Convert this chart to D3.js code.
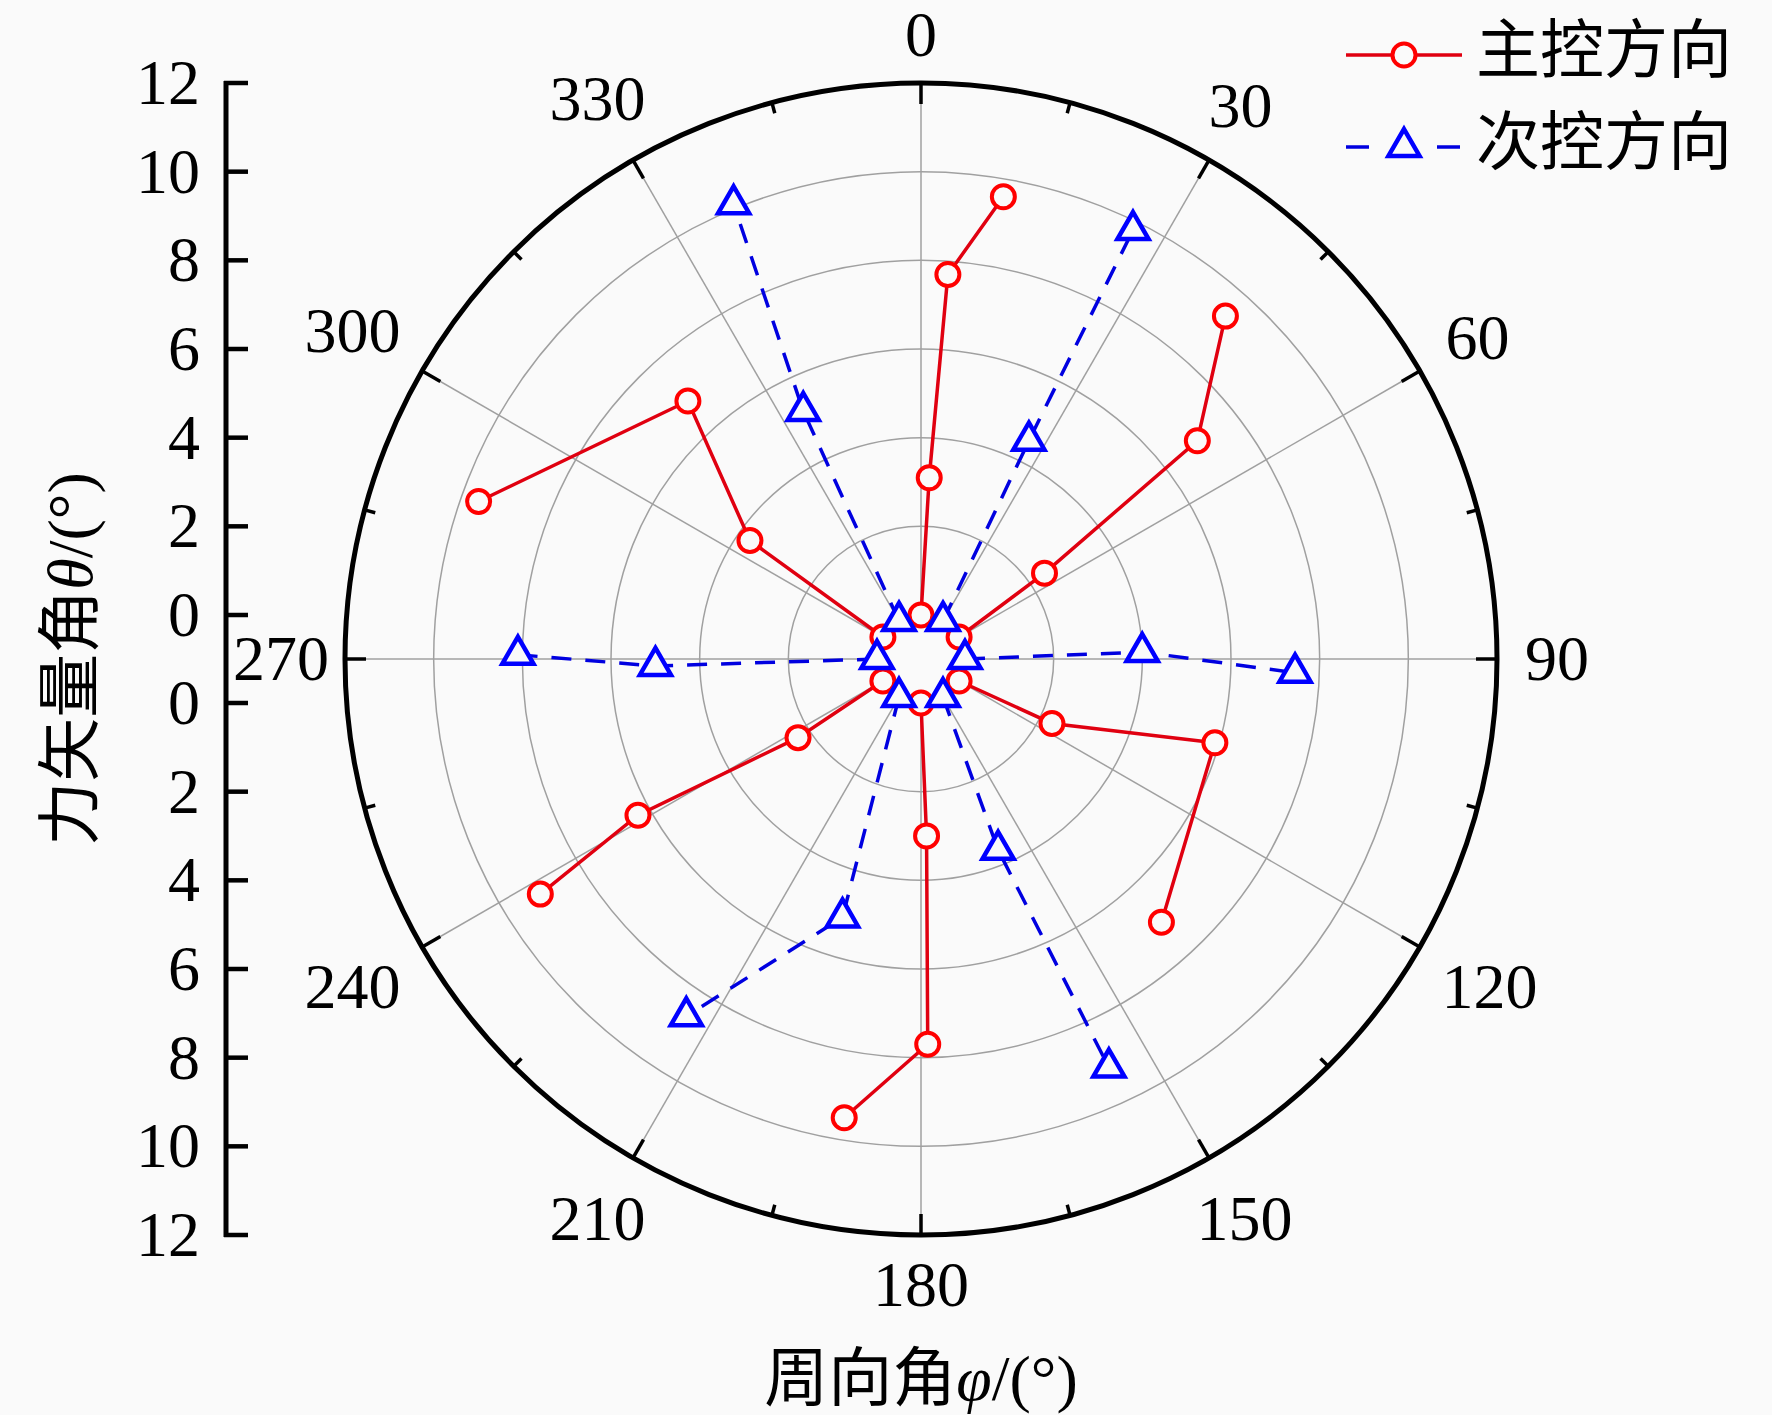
<!DOCTYPE html>
<html>
<head>
<meta charset="utf-8">
<script src="https://cdn.jsdelivr.net/npm/d3@7"></script>
<style>
  body { margin: 0; background: #fafafa; }
  text { font-family: "Liberation Serif", "Noto Sans CJK SC", serif; fill: #000; }
</style>
</head>
<body>
<svg id="chart"></svg>
<script>
const width = 1772;
const height = 1415;

// 主控方向: each arm is [phi (deg), theta (deg)]
const mainPhi = [
    [0, 2.6, 4.0, 10.1],
    [60, 55.2, 51.7, 41.6],
    [120, 116.2, 105.9, 137.6],
    [180, 178.2, 179.0, 189.5],
    [240, 237.4, 241.1, 238.3],
    [300, 304.7, 317.9, 289.6]
];
const mainTheta = [
    [0, 3.1, 7.7, 9.6],
    [0, 2.4, 6.95, 9.35],
    [0, 2.3, 5.9, 7.05],
    [0, 3.0, 7.7, 9.5],
    [0, 2.3, 6.3, 9.1],
    [0, 3.7, 6.85, 9.6]
];

// 次控方向
const subPhi = [
    [30, 26.3, 26.3],
    [90, 88.2, 92.1],
    [150, 158.0, 155.3],
    [210, 196.9, 213.3],
    [270, 268.5, 270.6],
    [330, 334.6, 337.6]
];
const subTheta = [
    [0, 4.5, 9.8],
    [0, 4.0, 7.45],
    [0, 3.65, 9.15],
    [0, 5.1, 8.65],
    [0, 5.0, 8.1],
    [0, 5.2, 10.1]
];

const angleTicks = d3.range(0, 360, 30);
const angleMinor = d3.range(15, 360, 30);
const radialTicks = [0, 2, 4, 6, 8, 10, 12];
const legendNames = ["主控方向", "次控方向"];

const cx = 921, cy = 659;
const R = 576, hole = 44;
const bg = "#fafafa";

const svg = d3.select("#chart")
    .attr("width", width)
    .attr("height", height)
    .attr("viewBox", `0 0 ${width} ${height}`);

svg.append("rect").attr("width", width).attr("height", height).attr("fill", bg);

const rScale = d3.scaleLinear().domain([0, 12]).range([hole, R]);
const rad = d => d * Math.PI / 180;

const g = svg.append("g").attr("transform", `translate(${cx},${cy})`);

// grid circles
g.append("g").selectAll("circle")
    .data(radialTicks.slice(0, -1))
    .enter().append("circle")
    .attr("r", d => rScale(d))
    .attr("fill", "none")
    .attr("stroke", "#a0a0a0")
    .attr("stroke-width", 1.5);

// spokes
g.append("g").selectAll("line")
    .data(angleTicks)
    .enter().append("line")
    .attr("x1", d => hole * Math.sin(rad(d)))
    .attr("y1", d => -hole * Math.cos(rad(d)))
    .attr("x2", d => R * Math.sin(rad(d)))
    .attr("y2", d => -R * Math.cos(rad(d)))
    .attr("stroke", "#a0a0a0")
    .attr("stroke-width", 1.5);

// outer circle + ticks
g.append("circle").attr("r", R).attr("fill", "none").attr("stroke", "#000").attr("stroke-width", 5);

function tickLines(data, len) {
    g.append("g").selectAll("line")
        .data(data)
        .enter().append("line")
        .attr("x1", d => R * Math.sin(rad(d)))
        .attr("y1", d => -R * Math.cos(rad(d)))
        .attr("x2", d => (R - len) * Math.sin(rad(d)))
        .attr("y2", d => -(R - len) * Math.cos(rad(d)))
        .attr("stroke", "#000")
        .attr("stroke-width", 3.5);
}
tickLines(angleTicks, 21);
tickLines(angleMinor, 11);

// angular labels
const fs = 64;
function labelR(d) {
    const w = String(d).length * fs / 2, h = 44;
    const off = Math.abs(Math.sin(rad(d))) * w / 2 + Math.abs(Math.cos(rad(d))) * h / 2;
    return R + 28 + off;
}
g.append("g").selectAll("text")
    .data(angleTicks)
    .enter().append("text")
    .attr("text-anchor", "middle")
    .attr("font-size", fs)
    .attr("x", d => labelR(d) * Math.sin(rad(d)) + (d === 270 ? 12 : 0))
    .attr("y", d => -labelR(d) * Math.cos(rad(d)) + fs * 0.33 + (d === 0 ? 2 : 0))
    .text(d => d);

// data lines
const radialLine = d3.lineRadial()
    .angle(d => rad(d[0]))
    .radius(d => rScale(d[1]));

const mainArms = mainPhi.map((arm, i) => arm.map((p, j) => [p, mainTheta[i][j]]));
const subArms = subPhi.map((arm, i) => arm.map((p, j) => [p, subTheta[i][j]]));

g.append("g").selectAll("path")
    .data(mainArms)
    .enter().append("path")
    .attr("d", radialLine)
    .attr("fill", "none")
    .attr("stroke", "#e00010")
    .attr("stroke-width", 3.5);

g.append("g").selectAll("path")
    .data(subArms)
    .enter().append("path")
    .attr("d", radialLine)
    .attr("fill", "none")
    .attr("stroke", "#0000e0")
    .attr("stroke-width", 3.5)
    .attr("stroke-dasharray", "20,14");

const px = d => rScale(d[1]) * Math.sin(rad(d[0]));
const py = d => -rScale(d[1]) * Math.cos(rad(d[0]));
const triangle = d3.symbol().type(d3.symbolTriangle).size(420);

// markers
g.append("g").selectAll("circle")
    .data(mainArms.flat())
    .enter().append("circle")
    .attr("cx", px)
    .attr("cy", py)
    .attr("r", 11.5)
    .attr("fill", bg)
    .attr("stroke", "#ff0000")
    .attr("stroke-width", 4);

g.append("g").selectAll("path")
    .data(subArms.flat())
    .enter().append("path")
    .attr("d", triangle)
    .attr("transform", d => `translate(${px(d)},${py(d)})`)
    .attr("fill", bg)
    .attr("stroke", "#0000ff")
    .attr("stroke-width", 4.5);

// radial axis on the left
const axX = 226;
const yUp = d => cy - rScale(d);
const yDown = d => cy + rScale(d);
const ax = svg.append("g");
ax.append("line")
    .attr("x1", axX).attr("x2", axX)
    .attr("y1", yUp(12) - 2).attr("y2", yDown(12) + 2)
    .attr("stroke", "#000").attr("stroke-width", 5);

[yUp, yDown].forEach(f => {
    ax.append("g").selectAll("line")
        .data(radialTicks)
        .enter().append("line")
        .attr("x1", axX - 2).attr("x2", axX + 22)
        .attr("y1", f).attr("y2", f)
        .attr("stroke", "#000").attr("stroke-width", 4.5);
    ax.append("g").selectAll("text")
        .data(radialTicks)
        .enter().append("text")
        .attr("text-anchor", "end")
        .attr("font-size", fs)
        .attr("x", 200)
        .attr("y", d => f(d) + fs * 0.33)
        .text(d => d);
});

// axis titles
svg.append("text")
    .attr("transform", `translate(92,${cy}) rotate(-90)`)
    .attr("text-anchor", "middle")
    .attr("font-size", fs)
    .html('力矢量角<tspan font-style="italic">θ</tspan>/(°)');

svg.append("text")
    .attr("x", cx)
    .attr("y", 1400)
    .attr("text-anchor", "middle")
    .attr("font-size", fs)
    .html('周向角<tspan font-style="italic">φ</tspan>/(°)');

// legend
const lg = svg.append("g");
lg.append("line")
    .attr("x1", 1346).attr("x2", 1462).attr("y1", 55).attr("y2", 55)
    .attr("stroke", "#e00010").attr("stroke-width", 3.5);
lg.append("circle")
    .attr("cx", 1404).attr("cy", 55).attr("r", 11.5)
    .attr("fill", bg).attr("stroke", "#ff0000").attr("stroke-width", 4);
lg.append("line")
    .attr("x1", 1346).attr("x2", 1460).attr("y1", 147).attr("y2", 147)
    .attr("stroke", "#0000e0").attr("stroke-width", 3.5)
    .attr("stroke-dasharray", "23,68");
lg.append("path")
    .attr("d", triangle)
    .attr("transform", "translate(1404,147)")
    .attr("fill", bg).attr("stroke", "#0000ff").attr("stroke-width", 4.5);
lg.selectAll("text.leg")
    .data(legendNames)
    .enter().append("text")
    .attr("class", "leg")
    .attr("x", 1476)
    .attr("y", (d, i) => 72 + i * 92)
    .attr("font-size", fs)
    .text(d => d);
</script>
</body>
</html>
